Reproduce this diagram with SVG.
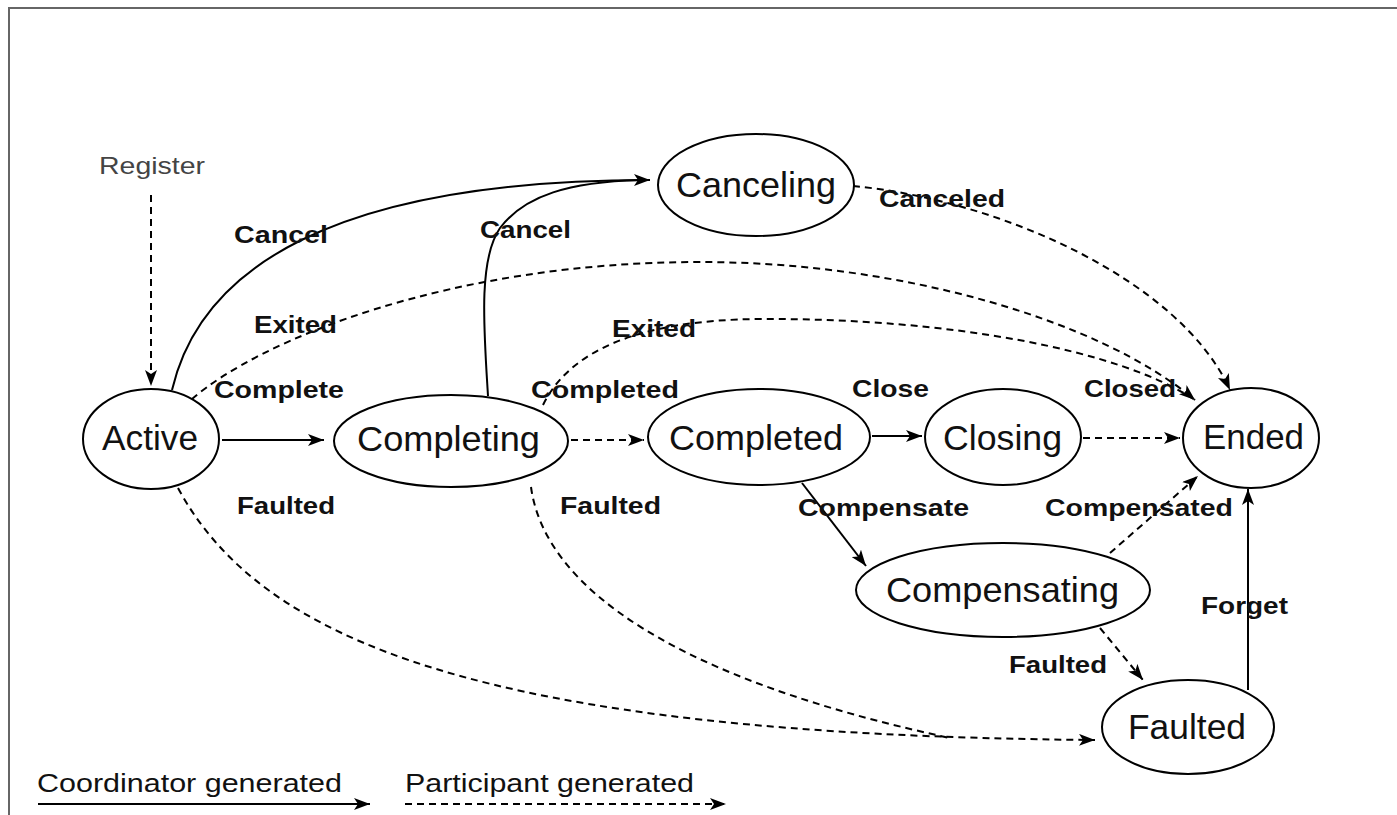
<svg xmlns="http://www.w3.org/2000/svg" width="1397" height="815" viewBox="0 0 1397 815">
<style>
.node ellipse{fill:#fff;stroke:#000;stroke-width:2}
.nt{font-family:"Liberation Sans",Arial,sans-serif;font-size:35px;fill:#111}
.lb{font-family:"Liberation Sans",Arial,sans-serif;font-size:24px;font-weight:bold;fill:#111}
.lg{font-family:"Liberation Sans",Arial,sans-serif;font-size:26px;fill:#111}
.reg{font-family:"Liberation Sans",Arial,sans-serif;font-size:24px;fill:#444}
.solid{fill:none;stroke:#000;stroke-width:2;marker-end:url(#ah)}
.dash{fill:none;stroke:#000;stroke-width:2;stroke-dasharray:7 5;marker-end:url(#ah)}
.dn{fill:none;stroke:#000;stroke-width:2;stroke-dasharray:7 5}
</style>
<defs>
<marker id="ah" markerUnits="userSpaceOnUse" markerWidth="16" markerHeight="12" refX="16" refY="6" orient="auto">
<path d="M0,0 L16,6 L0,12 L4,6 z" fill="#000"/>
</marker>
</defs>
<rect width="1397" height="815" fill="#fff"/>
<path d="M9,815 L9,8 L1397,8" fill="none" stroke="#666" stroke-width="2"/>

<g id="connectors">
<path class="dash" d="M151,195 L151,386"/>
<path class="solid" d="M222,440 L324,440"/>
<path class="dash" d="M571,440 L644,440"/>
<path class="solid" d="M872,436 L922,436"/>
<path class="dash" d="M1083,438 L1180,438"/>
<path class="solid" d="M172,390 C200,270 330,180 650,180"/>
<path fill="none" stroke="#000" stroke-width="2" d="M488,396 C484,330 478,260 500,228 C525,195 570,182 640,180"/>
<path class="dash" d="M853,186 C1000,200 1180,280 1230,390"/>
<path class="dash" d="M192,399 C260,340 450,262 700,262 C900,262 1100,320 1195,400"/>
<path class="dn" d="M543,405 C570,350 640,320 760,319 C950,318 1120,350 1195,400"/>
<path class="dash" d="M178,488 C260,640 480,735 1095,740"/>
<path class="dn" d="M531,487 C545,590 680,680 950,738"/>
<path class="solid" d="M802,483 L866,566"/>
<path class="dash" d="M1110,553 L1198,476"/>
<path class="dash" d="M1100,628 L1143,680"/>
<path class="solid" d="M1248,690 L1248,489"/>
<path class="solid" d="M38,804 L370,804"/>
<path class="dash" d="M405,804 L726,804"/>
</g>

<g id="labels">
<text class="reg" x="99" y="174" textLength="106" lengthAdjust="spacingAndGlyphs">Register</text>
<text class="lb" x="234" y="243" textLength="94" lengthAdjust="spacingAndGlyphs">Cancel</text>
<text class="lb" x="480" y="238" textLength="91" lengthAdjust="spacingAndGlyphs">Cancel</text>
<text class="lb" x="879" y="207" textLength="126" lengthAdjust="spacingAndGlyphs">Canceled</text>
<text class="lb" x="254" y="333" textLength="83" lengthAdjust="spacingAndGlyphs">Exited</text>
<text class="lb" x="612" y="337" textLength="84" lengthAdjust="spacingAndGlyphs">Exited</text>
<text class="lb" x="214" y="398" textLength="130" lengthAdjust="spacingAndGlyphs">Complete</text>
<text class="lb" x="531" y="398" textLength="148" lengthAdjust="spacingAndGlyphs">Completed</text>
<text class="lb" x="852" y="397" textLength="77" lengthAdjust="spacingAndGlyphs">Close</text>
<text class="lb" x="1084" y="397" textLength="92" lengthAdjust="spacingAndGlyphs">Closed</text>
<text class="lb" x="237" y="514" textLength="98" lengthAdjust="spacingAndGlyphs">Faulted</text>
<text class="lb" x="560" y="514" textLength="101" lengthAdjust="spacingAndGlyphs">Faulted</text>
<text class="lb" x="798" y="516" textLength="171" lengthAdjust="spacingAndGlyphs">Compensate</text>
<text class="lb" x="1045" y="516" textLength="188" lengthAdjust="spacingAndGlyphs">Compensated</text>
<text class="lb" x="1201" y="614" textLength="87" lengthAdjust="spacingAndGlyphs">Forget</text>
<text class="lb" x="1009" y="673" textLength="98" lengthAdjust="spacingAndGlyphs">Faulted</text>
<text class="lg" x="37" y="792" textLength="305" lengthAdjust="spacingAndGlyphs">Coordinator generated</text>
<text class="lg" x="405" y="792" textLength="289" lengthAdjust="spacingAndGlyphs">Participant generated</text>
</g>

<g id="node-active" class="node"><ellipse cx="151" cy="439" rx="68" ry="50"/><text class="nt" x="102" y="450" textLength="96" lengthAdjust="spacingAndGlyphs">Active</text></g>
<g id="node-completing" class="node"><ellipse cx="451" cy="441" rx="117" ry="46"/><text class="nt" x="357" y="451" textLength="183" lengthAdjust="spacingAndGlyphs">Completing</text></g>
<g id="node-completed" class="node"><ellipse cx="759" cy="437" rx="111" ry="48"/><text class="nt" x="669" y="450" textLength="174" lengthAdjust="spacingAndGlyphs">Completed</text></g>
<g id="node-closing" class="node"><ellipse cx="1003" cy="437" rx="78" ry="48"/><text class="nt" x="943" y="450" textLength="119" lengthAdjust="spacingAndGlyphs">Closing</text></g>
<g id="node-ended" class="node"><ellipse cx="1251" cy="438" rx="68" ry="50"/><text class="nt" x="1203" y="449" textLength="101" lengthAdjust="spacingAndGlyphs">Ended</text></g>
<g id="node-canceling" class="node"><ellipse cx="756" cy="185" rx="98" ry="51"/><text class="nt" x="676" y="197" textLength="160" lengthAdjust="spacingAndGlyphs">Canceling</text></g>
<g id="node-compensating" class="node"><ellipse cx="1003" cy="590" rx="147" ry="47"/><text class="nt" x="886" y="602" textLength="233" lengthAdjust="spacingAndGlyphs">Compensating</text></g>
<g id="node-faulted" class="node"><ellipse cx="1188" cy="727" rx="86" ry="47"/><text class="nt" x="1128" y="739" textLength="118" lengthAdjust="spacingAndGlyphs">Faulted</text></g>
</svg>
